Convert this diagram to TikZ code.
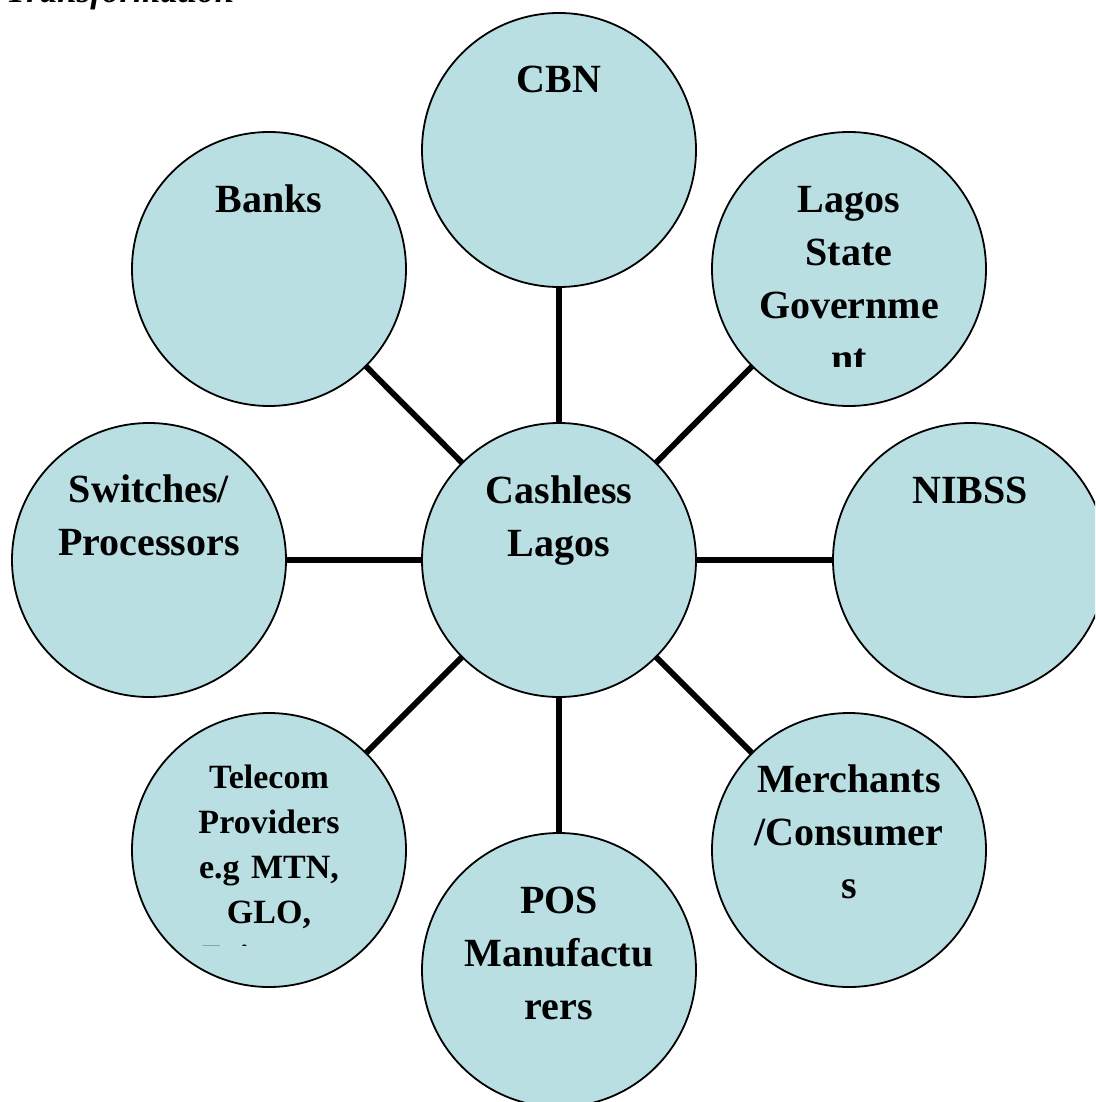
\documentclass[tikz,border=0pt]{standalone}
\usepackage{fontspec}
\setmainfont{Liberation Serif}
\definecolor{partyfill}{HTML}{B9DFE3}

\begin{document}
\begin{tikzpicture}[x=1pt,y=-1pt,
    party/.style={circle,draw=black,line width=1.8pt,fill=partyfill,minimum size=274pt,inner sep=0pt,outer sep=0pt},
    lbl/.style={anchor=base,text width=260pt,align=center,inner sep=0pt,font=\fontsize{40}{53}\selectfont\bfseries},
    smalllbl/.style={lbl,font=\fontsize{34}{45}\selectfont\bfseries},
    link/.style={line width=5.8pt}]
\clip (0,0) rectangle (1095,1102);
\node[anchor=base west,inner sep=0pt,font=\fontsize{35}{40}\selectfont\bfseries\itshape] (title) at (6,3) {Transformation};

% the circles
\node[party] (hub) at (559,560) {};
\node[party] (cbn) at (559,150) {};
\node[party] (banks) at (269,269) {};
\node[party] (lsg) at (849,269) {};
\node[party] (switches) at (149,560) {};
\node[party] (nibss) at (970,560) {};
\node[party] (telecom) at (269,850) {};
\node[party] (pos) at (559,970) {};
\node[party] (merchants) at (849,850) {};

% spokes
\foreach \n in {cbn,banks,lsg,switches,nibss,telecom,pos,merchants}
  \draw[link] (hub) -- (\n);

% labels, first baseline 80pt under the top of each circle
\node[lbl] (hubt) at ([yshift=-80pt]hub.north) {Cashless\\Lagos};
\node[lbl] (cbnt) at ([yshift=-80pt]cbn.north) {CBN};
\node[lbl] (bankst) at ([yshift=-80pt]banks.north) {Banks};
\begin{scope}
  \clip (700,130) rectangle (1000,366);
  \node[lbl] (lsgt) at ([yshift=-80pt]lsg.north) {Lagos\\State\\Governme\\nt};
\end{scope}
\node[lbl] (switchest) at ([yshift=-79pt]switches.north) {Switches/\\Processors};
\node[lbl] (nibsst) at ([yshift=-80pt]nibss.north) {NIBSS};
\begin{scope}
  \clip (120,700) rectangle (420,945);
  \node[smalllbl] (telecomt) at ([yshift=-75pt]telecom.north) {Telecom\\Providers\\e.g MTN,\\GLO,\\Zain, etc.};
\end{scope}
\node[lbl] (post) at ([yshift=-80pt]pos.north) {POS\\Manufactu\\rers};
\node[lbl] (merchantst) at ([yshift=-79pt]merchants.north) {Merchants\\/Consumer\\s};
\end{tikzpicture}
\end{document}
